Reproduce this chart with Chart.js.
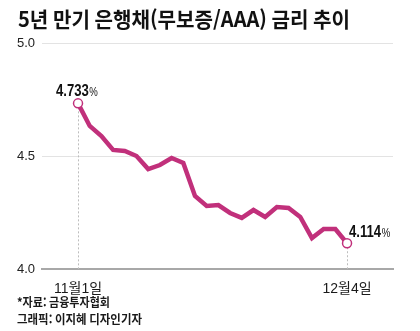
<!DOCTYPE html>
<html lang="ko">
<head>
    <meta charset="UTF-8">
    <title>5년 만기 은행채 금리 추이</title>
    <script src="https://cdn.jsdelivr.net/npm/chart.js@4.4.0/dist/chart.umd.min.js"></script>
    <style>
        body { margin: 0; background: #fff; }
    </style>
</head>
<body>
    <canvas id="paint" width="420" height="331"></canvas>
    <script>
        // 영업일 기준 11/1 ~ 12/4
        var dates = ["11월1일","11월2일","11월3일","11월6일","11월7일","11월8일","11월9일","11월10일",
                     "11월13일","11월14일","11월15일","11월16일","11월17일","11월20일","11월21일","11월22일",
                     "11월23일","11월24일","11월27일","11월28일","11월29일","11월30일","12월1일","12월4일"]
        var rates = [4.733, 4.633, 4.588, 4.527, 4.522, 4.500, 4.442, 4.460,
                     4.491, 4.469, 4.323, 4.279, 4.283, 4.248, 4.226, 4.261,
                     4.230, 4.274, 4.270, 4.230, 4.137, 4.177, 4.177, 4.114]
        var yTicks = [4.0, 4.5, 5.0]
        var title = "5년 만기 은행채(무보증/AAA) 금리 추이"
        var source = ["*자료: 금융투자협회", "그래픽: 이지혜 디자인기자"]

        var lineColor = "#c1307b"
        var last = rates.length - 1
        var KR = "'Noto Sans CJK KR', 'Noto Sans', sans-serif"
        var NUM = "'Liberation Sans', 'Noto Sans CJK KR', Arial, sans-serif"

        // 가로로 눌러서 그리기 (condensed 느낌)
        function squish(ctx, text, x, y, font, sx) {
            ctx.save()
            ctx.font = font
            var w = ctx.measureText(text).width * sx
            ctx.translate(x, y)
            ctx.scale(sx, 1)
            ctx.textAlign = "left"
            ctx.fillText(text, 0, 0)
            ctx.restore()
            return w
        }
        function fitWidth(ctx, text, font, width) {
            ctx.font = font
            return width / ctx.measureText(text).width
        }

        var extras = {
            id: "extras",
            beforeDatasetsDraw: function (chart) {
                var ctx = chart.ctx, xs = chart.scales.x, ys = chart.scales.y
                ctx.save()
                ctx.strokeStyle = "#bdbdbd"
                ctx.lineWidth = 1
                ctx.setLineDash([2, 2])
                ;[0, last].forEach(function (i) {
                    var px = Math.round(xs.getPixelForValue(i)) + 0.5
                    ctx.beginPath()
                    ctx.moveTo(px, ys.getPixelForValue(rates[i]))
                    ctx.lineTo(px, chart.chartArea.bottom)
                    ctx.stroke()
                })
                ctx.restore()
            },
            afterDatasetsDraw: function (chart) {
                var ctx = chart.ctx, xs = chart.scales.x, ys = chart.scales.y
                ctx.save()
                ctx.textBaseline = "middle"
                ctx.fillStyle = "#111"
                // 시작/끝 값 라벨
                var marks = [[0, -22, -12], [last, 2, -11]]
                marks.forEach(function (m) {
                    var px = xs.getPixelForValue(m[0]) + m[1]
                    var py = ys.getPixelForValue(rates[m[0]]) + m[2]
                    var w = squish(ctx, rates[m[0]].toFixed(3), px, py, "bold 16px " + NUM, 0.82)
                    squish(ctx, "%", px + w + 0.5, py + 1, "12px " + NUM, 0.8)
                })

                // 제목
                ctx.textBaseline = "alphabetic"
                var tf = "bold 21px " + KR
                squish(ctx, title, 18, 27, tf, fitWidth(ctx, title, tf, 332))

                // 출처
                ctx.fillStyle = "#1a1a1a"
                ctx.textBaseline = "middle"
                var sf = "bold 12.5px " + KR
                squish(ctx, source[0], 17, 302, sf, fitWidth(ctx, source[0], sf, 93))
                squish(ctx, source[1], 17, 319, sf, fitWidth(ctx, source[1], sf, 125))
                ctx.restore()
            }
        }

        var ctx = document.getElementById("paint").getContext("2d")
        var chart = new Chart(ctx, {
            type: "line",
            data: {
                datasets: [{
                    data: rates.map(function (v, i) { return { x: i, y: v } }),
                    borderColor: lineColor,
                    borderWidth: 4.5,
                    borderJoinStyle: "miter",
                    tension: 0,
                    pointRadius: function (c) { return (c.dataIndex === 0 || c.dataIndex === last) ? 4.5 : 0 },
                    pointBackgroundColor: "#fff",
                    pointBorderColor: lineColor,
                    pointBorderWidth: 1.5
                }]
            },
            options: {
                responsive: false,
                animation: false,
                layout: { padding: { top: 43, left: 0, right: 27, bottom: 0 } },
                plugins: { legend: { display: false }, tooltip: { enabled: false } },
                scales: {
                    x: {
                        type: "linear",
                        min: -3.08,
                        max: 26.93,
                        afterBuildTicks: function (s) { s.ticks = [{ value: 0 }, { value: last }] },
                        afterFit: function (s) { s.height = 62 },
                        grid: { display: false },
                        border: { display: true, color: "#a8a8a8", width: 2 },
                        ticks: {
                            autoSkip: false,
                            maxRotation: 0,
                            padding: 4,
                            color: "#1a1a1a",
                            font: { family: NUM, size: 14 },
                            callback: function (v) { return dates[v] }
                        }
                    },
                    y: {
                        min: 4.0,
                        max: 5.0,
                        afterBuildTicks: function (s) { s.ticks = yTicks.map(function (v) { return { value: v } }) },
                        afterFit: function (s) { s.width = 42 },
                        border: { display: false },
                        grid: {
                            drawTicks: false,
                            color: function (c) { return c.tick.value === 4.0 ? "rgba(0,0,0,0)" : "#e3e3e3" },
                            lineWidth: 1
                        },
                        ticks: {
                            padding: 7,
                            color: "#222",
                            font: { family: NUM, size: 13 },
                            callback: function (v) { return v.toFixed(1) }
                        }
                    }
                }
            },
            plugins: [extras]
        })
    </script>
</body>
</html>
